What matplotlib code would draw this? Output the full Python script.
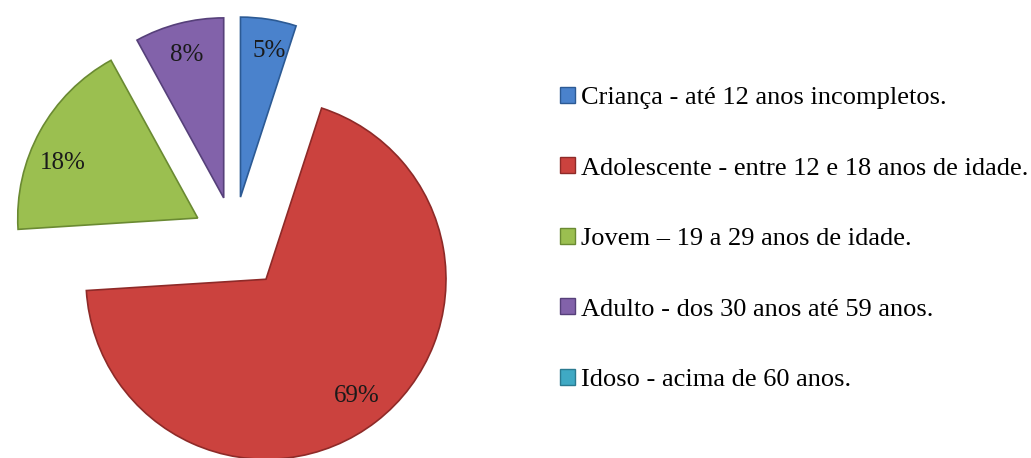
'''
Faixa etaria - pie chart
'''
import matplotlib
matplotlib.use('Agg')
import matplotlib.pyplot as plt

categories = [
    'Criança - até 12 anos incompletos.',
    'Adolescente - entre 12 e 18 anos de idade.',
    'Jovem – 19 a 29 anos de idade.',
    'Adulto - dos 30 anos até 59 anos.',
    'Idoso - acima de 60 anos.',
]
values = [5, 69, 18, 8, 0]
colors = ['#4a82cc', '#cb423e', '#9bbf50', '#8262aa', '#3fa9c4']
edges = ['#2c5a94', '#8e2a28', '#6a8a32', '#56407a', '#2a7a90']
explode = [0.23, 0.29, 0.23, 0.23, 0]

plt.rcParams['font.family'] = ['Liberation Serif', 'DejaVu Serif']

fig = plt.figure(figsize=(10.31, 4.58), dpi=100)
ax = fig.add_axes([0, 0, 480 / 1031, 1])


def fmt_pct(p):
    # the empty category gets no label
    return '' if p < 0.5 else '%d%%' % round(p)


wedges, texts, autotexts = ax.pie(
    values, colors=colors, explode=explode, startangle=90,
    counterclock=False, radius=1, autopct=fmt_pct, pctdistance=0.82,
    wedgeprops=dict(linewidth=1.2),
    textprops=dict(fontsize=18, color='#1a1a1a'))
for w, ec in zip(wedges, edges):
    w.set_edgecolor(ec)
wedges[4].set_linewidth(0)  # zero slice: no stray line

# the 18% label sits a bit lower in the original, 5% a bit to the right
x, y = autotexts[2].get_position()
autotexts[2].set_position((x - 0.03, y - 0.09))
x, y = autotexts[0].get_position()
autotexts[0].set_position((x + 0.03, y))

# scale: about 180 px per radius unit, center near pixel (234, 238)
ax.set_xlim(-234 / 180, (480 - 234) / 180)
ax.set_ylim(-(458 - 238) / 180, 238 / 180)
ax.set_aspect('auto')
ax.axis('off')

leg = fig.legend(wedges, categories, loc='center left',
                 bbox_to_anchor=(560 / 1031, 1 - 239 / 458),
                 frameon=False, fontsize=19, labelspacing=1.83,
                 handlelength=0.55, handleheight=0.55, handletextpad=0.25,
                 borderpad=0, borderaxespad=0)
for h, ec in zip(leg.legend_handles, edges):
    h.set_edgecolor(ec)
    h.set_linewidth(1)

plt.savefig('out.png', dpi=100)
